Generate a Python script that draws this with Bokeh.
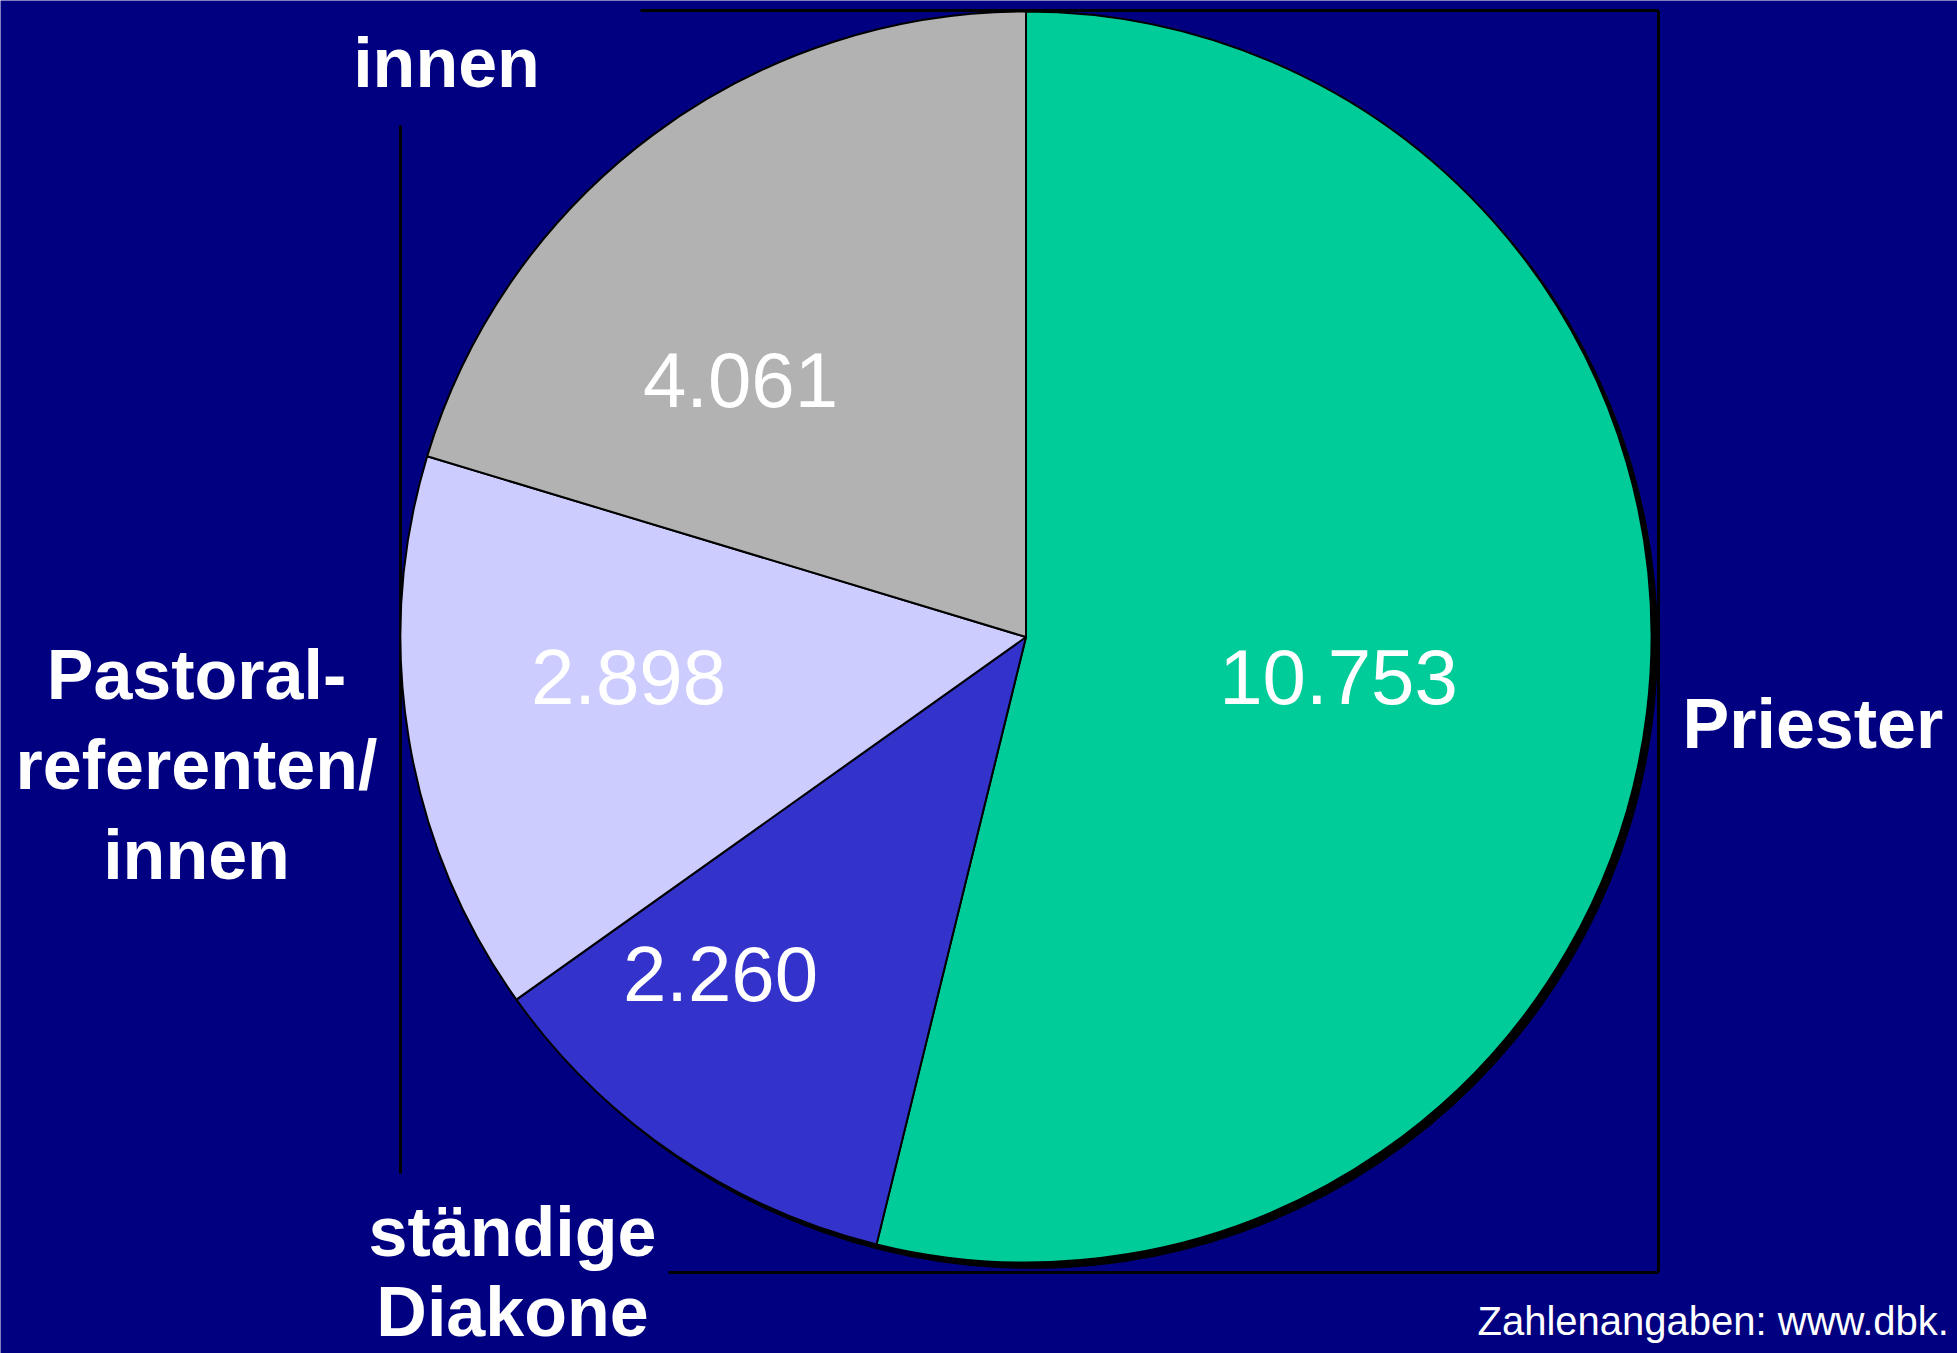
import numpy as np
from bokeh.plotting import figure
from bokeh.models import Range1d, ColumnDataSource
from bokeh.core.properties import value
from bokeh.embed import file_html
from bokeh.resources import INLINE

# ---- data ----
categories = ["Priester", "ständige Diakone", "Pastoralreferenten/innen", "Gemeindereferenten/innen"]
values = [10753, 2260, 2898, 4061]
value_labels = ["10.753", "2.260", "2.898", "4.061"]
slice_colors = ["#00CC99", "#3333CC", "#CCCCFF", "#B2B2B2"]
source_note = "Zahlenangaben: www.dbk."

BG = "#000080"
W, H = 1957, 1353          # reference pixel space
FONT = value("Liberation Sans")

def Y(ry):
    return H - ry

p = figure(width=W, height=H, output_backend="svg", toolbar_location=None,
           x_range=Range1d(0, W), y_range=Range1d(0, H),
           min_border=0, background_fill_color=BG, border_fill_color=BG)
p.axis.visible = False
p.grid.visible = False
p.outline_line_color = None

# plot-area frame (partly hidden behind labels, as in the original)
p.segment(x0=[640, 1658, 668, 400], y0=[Y(10), Y(10), Y(1272), Y(125)],
          x1=[1658, 1658, 1658, 400], y1=[Y(10), Y(1272), Y(1272), Y(1173)],
          line_color="black", line_width=3)

# pie
cx, cy, r = 1025.5, Y(636.5), 625.5
vals = np.array(values, dtype=float)
total = vals.sum()
cum = np.cumsum(vals)
start = np.pi / 2 - 2 * np.pi * (cum - vals) / total
end = np.pi / 2 - 2 * np.pi * cum / total

# shadow
p.circle(x=[cx + 6], y=[cy - 6], radius=r, fill_color="black", line_color="black")

src = ColumnDataSource(dict(start=start, end=end, color=slice_colors, cat=categories, val=values))
p.wedge(x=cx, y=cy, radius=r, start_angle="start", end_angle="end", direction="clock",
        fill_color="color", line_color="black", line_width=2, source=src)

# value labels
vx = [1338, 720, 628, 740]
vy = [Y(676), Y(973), Y(676), Y(379)]
p.text(x=vx, y=vy, text=value_labels, text_align="center", text_baseline="alphabetic",
       text_color="white", text_font=FONT, text_font_size="78px")

# category labels (bold)
lx = [1682, 512, 512, 196, 196, 196, 446]
ly = [Y(723), Y(1231), Y(1311), Y(674), Y(764), Y(854), Y(62)]
lt = ["Priester", "ständige", "Diakone", "Pastoral-", "referenten/", "innen", "innen"]
la = ["left", "center", "center", "center", "center", "center", "center"]
p.text(x=lx, y=ly, text=lt, text_align=la, text_baseline="alphabetic",
       text_color="white", text_font=FONT, text_font_size="70px", text_font_style="bold")

# source note
p.text(x=[1477], y=[Y(1320)], text=[source_note], text_align="left", text_baseline="alphabetic",
       text_color="white", text_font=FONT, text_font_size="40px")

open("out.html", "w").write(file_html(p, INLINE))
